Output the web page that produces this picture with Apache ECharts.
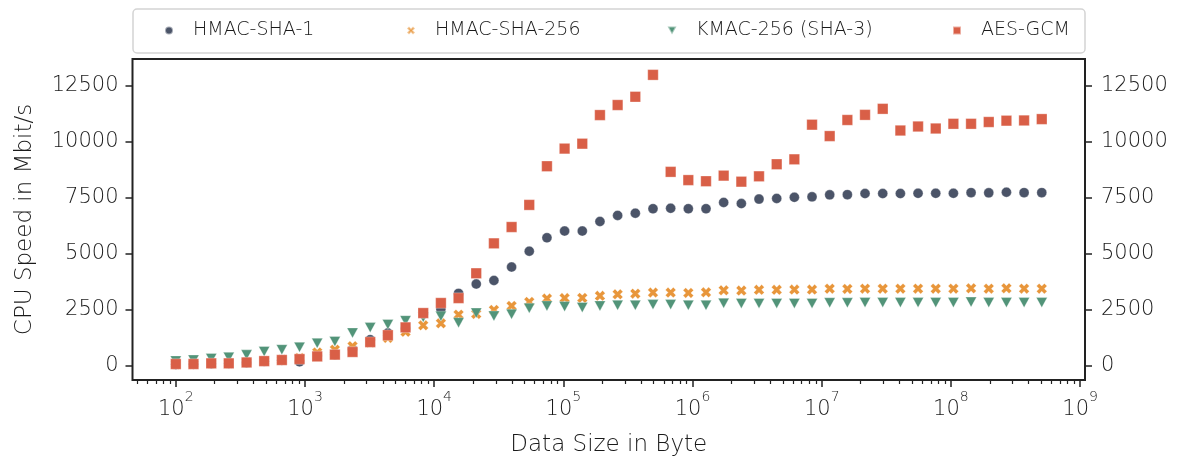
<!DOCTYPE html>
<html>
<head>
<meta charset="utf-8">
<script src="https://cdn.jsdelivr.net/npm/echarts@6/dist/echarts.min.js"></script>
<style>
  html, body { margin: 0; padding: 0; background: #fff; }
  #chart { width: 1183px; height: 462px; }
</style>
</head>
<body>
<div id="chart"></div>
<script>
// data sizes in byte (x)
var sizes = [100, 137, 188, 257, 353, 483, 662, 907, 1243, 1703, 2333, 3197, 4380, 6001, 8225,
  11270, 15440, 21160, 29000, 39730, 54450, 74610, 102200, 140100, 191900, 263000, 360500,
  494000, 676800, 927300, 1271000, 1741000, 2386000, 3269000, 4480000, 6138000, 8410000,
  11520000, 15790000, 21630000, 29650000, 40620000, 55660000, 76260000, 104500000,
  143200000, 196200000, 268900000, 368400000, 504800000];

// CPU speed in Mbit/s
var hmacSha1 = [40, 50, 70, 80, 120, 180, 230, 160, 420, 480, 720, 1150, 1450, 1650, 2300,
  2520, 3220, 3640, 3800, 4400, 5110, 5710, 6010, 6010, 6440, 6710, 6810, 7010, 7030, 7010,
  7010, 7290, 7240, 7440, 7470, 7520, 7540, 7630, 7640, 7690, 7690, 7690, 7700, 7700, 7700,
  7730, 7720, 7750, 7730, 7730];
var hmacSha256 = [50, 60, 80, 90, 140, 200, 250, 330, 580, 700, 860, 1020, 1230, 1500, 1790,
  1880, 2270, 2300, 2480, 2660, 2840, 2990, 3010, 3020, 3110, 3180, 3210, 3260, 3260, 3240,
  3270, 3360, 3350, 3380, 3380, 3390, 3390, 3430, 3420, 3430, 3430, 3430, 3430, 3430, 3430,
  3450, 3430, 3450, 3430, 3430];
var kmac256 = [200, 240, 310, 360, 470, 620, 700, 810, 990, 1070, 1450, 1690, 1830, 2000, 2150,
  2200, 1910, 2340, 2210, 2290, 2560, 2660, 2630, 2590, 2660, 2690, 2690, 2720, 2720, 2690,
  2690, 2780, 2770, 2770, 2770, 2770, 2770, 2800, 2800, 2810, 2810, 2810, 2810, 2810, 2810,
  2830, 2810, 2810, 2810, 2810];
var aesGcm = [60, 60, 90, 90, 130, 190, 240, 280, 400, 480, 600, 1040, 1350, 1700, 2340,
  2790, 3010, 4120, 5460, 6190, 7180, 8910, 9700, 9920, 11200, 11650, 12020, 13000, 8660,
  8290, 8240, 8490, 8220, 8460, 9000, 9220, 10770, 10260, 10980, 11210, 11480, 10510, 10690,
  10600, 10810, 10810, 10890, 10950, 10960, 11020];

var seriesNames = ['HMAC-SHA-1', 'HMAC-SHA-256', 'KMAC-256 (SHA-3)', 'AES-GCM'];
var seriesValues = [hmacSha1, hmacSha256, kmac256, aesGcm];
var colors = ['#4b5468', '#e8963b', '#529479', '#d95f47'];

var xTicks = [1e2, 1e3, 1e4, 1e5, 1e6, 1e7, 1e8, 1e9];
var yTicks = [0, 2500, 5000, 7500, 10000, 12500];

// minor ticks 2..9 x 10^n
var xMinor = [];
for (var n = 1; n <= 8; n++) {
  for (var k = 2; k <= 9; k++) xMinor.push(k * Math.pow(10, n));
}

var FONT = 'DejaVu Sans';
var TXT = '#1a1a1a';
var X_MIN = 46.2, X_MAX = 1.091e9;
var Y_MIN = -655, Y_MAX = 13710;

// matplotlib-like markers: filled X and down triangle
var xMarker = 'path://M25,0L50,25L75,0L100,25L75,50L100,75L75,100L50,75L25,100L0,75L25,50L0,25Z';
var vMarker = 'path://M0,0L100,0L50,90Z';
var symbols = ['circle', xMarker, vMarker, 'rect'];
var symbolSizes = [10, 10.5, [11, 10], 10.5];
var legendIconSize = [8, 8, 9, 8];
var legendX = [168, 410, 671, 956];

function pairs(vals) {
  var out = [];
  for (var i = 0; i < sizes.length; i++) out.push([sizes[i], vals[i]]);
  return out;
}

var series = seriesNames.map(function (name, i) {
  return {
    name: name,
    type: 'scatter',
    data: pairs(seriesValues[i]),
    symbol: symbols[i],
    symbolSize: symbolSizes[i],
    itemStyle: { color: colors[i], opacity: 1, borderColor: 'rgba(255,255,255,0.5)', borderWidth: 0.6 },
    emphasis: { disabled: true },
    z: 2 + i
  };
});

var legends = seriesNames.map(function (name, i) {
  var s = legendIconSize[i];
  return {
    data: [{ name: name, icon: symbols[i] }],
    left: legendX[i] - s / 2,
    top: 21,
    padding: 0,
    itemWidth: s,
    itemHeight: s,
    selectedMode: false,
    textStyle: { fontFamily: FONT, fontSize: 19, color: TXT, fontWeight: 300, padding: [0, 0, 0, 24 - s / 2 - 5] },
    z: 10
  };
});

var tickLabelStyle = { fontFamily: FONT, fontSize: 21, color: TXT, fontWeight: 300 };

var option = {
  animation: false,
  backgroundColor: '#fff',
  color: colors,
  legend: legends,
  graphic: [{
    type: 'rect',
    shape: { x: 133, y: 9, width: 952, height: 44, r: 4 },
    style: { fill: '#fff', stroke: '#d4d4d4', lineWidth: 1.5 },
    z: 1
  }],
  grid: {
    left: 132.5, top: 59, width: 952.5, height: 322,
    show: true, borderColor: '#222', borderWidth: 2, backgroundColor: 'transparent'
  },
  xAxis: [{
    type: 'log',
    logBase: 10,
    min: X_MIN,
    max: X_MAX,
    name: 'Data Size in Byte',
    nameLocation: 'middle',
    nameGap: 54,
    nameTextStyle: { fontFamily: FONT, fontSize: 23, color: TXT, fontWeight: 300 },
    axisLine: { show: false, onZero: false },
    axisTick: { show: true, customValues: xTicks, length: 7, lineStyle: { color: '#222', width: 1.5 } },
    axisLabel: {
      customValues: xTicks,
      margin: 10,
      formatter: function (v) {
        return '{b|10}{s|' + Math.round(Math.log10(v)) + '}';
      },
      rich: {
        b: { fontFamily: FONT, fontSize: 21, color: TXT, fontWeight: 300, lineHeight: 30, verticalAlign: 'bottom' },
        s: { fontFamily: FONT, fontSize: 14, color: TXT, fontWeight: 300, lineHeight: 16, verticalAlign: 'top' }
      }
    },
    splitLine: { show: false },
    minorSplitLine: { show: false }
  }, {
    type: 'log',
    logBase: 10,
    gridIndex: 0,
    position: 'bottom',
    min: X_MIN,
    max: X_MAX,
    axisLine: { show: false, onZero: false },
    axisTick: { show: true, customValues: xMinor, length: 4, lineStyle: { color: '#222', width: 1.2 } },
    axisLabel: { show: false },
    splitLine: { show: false }
  }],
  yAxis: [{
    type: 'value',
    position: 'left',
    min: Y_MIN,
    max: Y_MAX,
    name: 'CPU Speed in Mbit/s',
    nameLocation: 'middle',
    nameGap: 96,
    nameTextStyle: { fontFamily: FONT, fontSize: 23, color: TXT, fontWeight: 300 },
    axisLine: { show: false, onZero: false },
    axisTick: { show: true, customValues: yTicks, length: 7, lineStyle: { color: '#222', width: 1.5 } },
    axisLabel: Object.assign({ customValues: yTicks, margin: 14, formatter: function (v) { return String(v); } }, tickLabelStyle),
    splitLine: { show: false }
  }, {
    type: 'value',
    position: 'right',
    min: Y_MIN,
    max: Y_MAX,
    axisLine: { show: false, onZero: false },
    axisTick: { show: true, customValues: yTicks, length: 7, lineStyle: { color: '#222', width: 1.5 } },
    axisLabel: Object.assign({ customValues: yTicks, margin: 16, formatter: function (v) { return String(v); } }, tickLabelStyle),
    splitLine: { show: false }
  }],
  series: series
};

var chart = echarts.init(document.getElementById('chart'), null, { renderer: 'canvas' });
chart.setOption(option);
</script>
</body>
</html>
